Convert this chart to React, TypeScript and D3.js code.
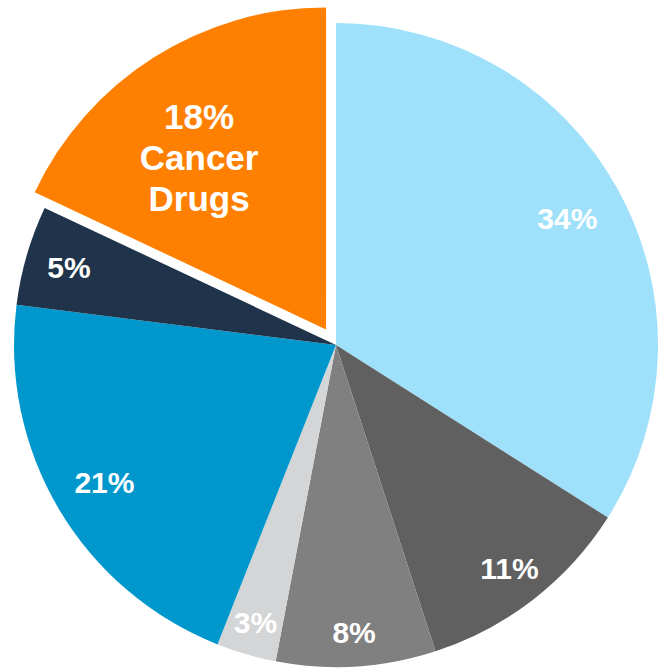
import React, { useEffect, useRef } from 'react';
import * as d3 from 'd3';

// slice order clockwise from 12 o'clock
const categories = ['Other A', 'Other B', 'Other C', 'Other D', 'Other E', 'Other F', 'Cancer Drugs'];
const shares = [34, 11, 8, 3, 21, 5, 18];
const labels = [['34%'], ['11%'], ['8%'], ['3%'], ['21%'], ['5%'], ['18%', 'Cancer', 'Drugs']];
const colors = ['#9fe1fb', '#5f605f', '#808080', '#d4d5d7', '#0098cc', '#1f344b', '#ff8000'];

// label placement per slice (layout only): distance from centre, angle nudge in degrees, font size
const labelRadii = [264, 283, 288, 289, 269, 278, 214];
const labelNudge = [0, 0, 0, 0, 0, 0, -4];
const labelSizes = [30, 30, 30, 30, 30, 30, 35];
const explodedIndex = 6;

export default function App() {
  const ref = useRef<SVGSVGElement>(null);

  useEffect(() => {
    if (!ref.current) return;
    const width = 659;
    const height = 668;
    const cx = 336;
    const cy = 345;
    const radius = 322;
    const explode = 18.5;

    const svg = d3.select(ref.current);
    svg.selectAll('*').remove();

    const pie = d3.pie<number>().sort(null).value(d => d);
    const arcs = pie(shares);
    const arc = d3.arc<d3.PieArcDatum<number>>().innerRadius(0).outerRadius(radius);

    const g = svg.append('g').attr('transform', `translate(${cx},${cy})`);

    const slices = g.selectAll('g.slice')
      .data(arcs)
      .enter()
      .append('g')
      .attr('class', 'slice')
      .attr('transform', (d, i) => {
        if (i !== explodedIndex) return null;
        const mid = (d.startAngle + d.endAngle) / 2;
        return `translate(${Math.sin(mid) * explode},${-Math.cos(mid) * explode})`;
      });

    slices.append('path')
      .attr('d', arc)
      .attr('fill', (_, i) => colors[i]);

    slices.append('text')
      .attr('text-anchor', 'middle')
      .attr('fill', '#ffffff')
      .style('font-family', '"Liberation Sans", Arial, sans-serif')
      .style('font-weight', 'bold')
      .style('font-size', (_, i) => `${labelSizes[i]}px`)
      .each(function (d, i) {
        const mid = (d.startAngle + d.endAngle) / 2 + (labelNudge[i] * Math.PI) / 180;
        const r = labelRadii[i];
        const x = Math.sin(mid) * r;
        const y = -Math.cos(mid) * r;
        const lines = labels[i];
        const lh = 41;
        const t = d3.select(this);
        lines.forEach((line, k) => {
          t.append('tspan')
            .attr('x', x)
            .attr('y', y + (k - (lines.length - 1) / 2) * lh)
            .attr('dy', '0.36em')
            .text(line);
        });
      });

    svg.attr('width', width).attr('height', height);
  }, []);

  return (
    <svg
      ref={ref}
      width={659}
      height={668}
      style={{ position: 'absolute', left: 0, top: 0, background: '#ffffff' }}
      aria-label={categories.join(', ')}
    />
  );
}
